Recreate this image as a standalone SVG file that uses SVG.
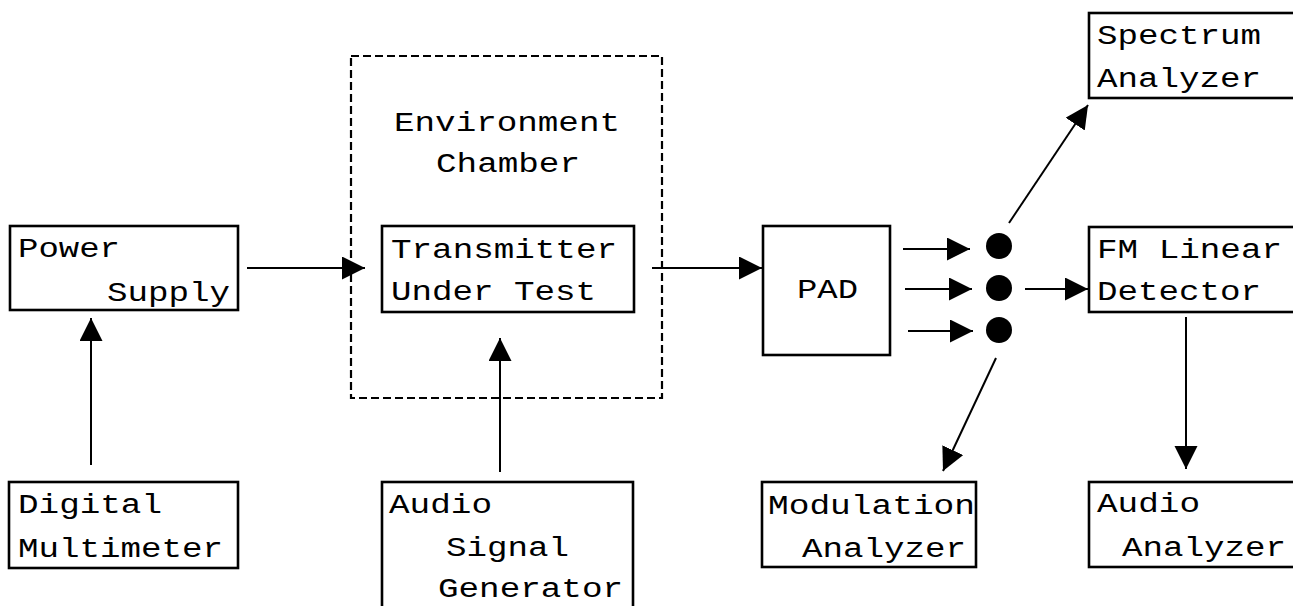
<svg xmlns="http://www.w3.org/2000/svg" width="1293" height="606" viewBox="0 0 1293 606">
<style>
.box{fill:#fff;stroke:#000;stroke-width:2.6}
.dash{fill:none;stroke:#000;stroke-width:2.2;stroke-dasharray:8 4}
.t{font-family:"Liberation Mono",monospace;font-size:27px;fill:#000}
.c{fill:none;stroke:#000;stroke-width:2;marker-end:url(#ah)}
.dot{fill:#000}
</style>
<defs>
<marker id="ah" markerUnits="userSpaceOnUse" markerWidth="24" markerHeight="24" refX="23" refY="11.5" orient="auto" viewBox="0 0 24 24">
<path d="M0,0 L23,11.5 L0,23 z" fill="#000"/>
</marker>
</defs>
<rect width="1293" height="606" fill="#fff"/>
<g id="chamber">
<rect class="dash" x="351" y="56" width="311" height="342"/>
<text class="t" x="394" y="131" textLength="226" lengthAdjust="spacingAndGlyphs">Environment</text>
<text class="t" x="436" y="172" textLength="144" lengthAdjust="spacingAndGlyphs">Chamber</text>
</g>
<g id="power-supply">
<rect class="box" x="10" y="226" width="228" height="84"/>
<text class="t" x="18" y="257" textLength="102" lengthAdjust="spacingAndGlyphs">Power</text>
<text class="t" x="107" y="301" textLength="123" lengthAdjust="spacingAndGlyphs">Supply</text>
</g>
<g id="transmitter">
<rect class="box" x="382" y="226" width="252" height="86"/>
<text class="t" x="391" y="258" textLength="226" lengthAdjust="spacingAndGlyphs">Transmitter</text>
<text class="t" x="391" y="300" textLength="205" lengthAdjust="spacingAndGlyphs">Under Test</text>
</g>
<g id="pad">
<rect class="box" x="763" y="226" width="127" height="129"/>
<text class="t" x="797" y="298" textLength="61" lengthAdjust="spacingAndGlyphs">PAD</text>
</g>
<g id="spectrum-analyzer">
<rect class="box" x="1089" y="13" width="215" height="85"/>
<text class="t" x="1097" y="44" textLength="164" lengthAdjust="spacingAndGlyphs">Spectrum</text>
<text class="t" x="1097" y="87" textLength="164" lengthAdjust="spacingAndGlyphs">Analyzer</text>
</g>
<g id="fm-linear-detector">
<rect class="box" x="1089" y="227" width="215" height="85"/>
<text class="t" x="1097" y="258" textLength="185" lengthAdjust="spacingAndGlyphs">FM Linear</text>
<text class="t" x="1097" y="300" textLength="164" lengthAdjust="spacingAndGlyphs">Detector</text>
</g>
<g id="digital-multimeter">
<rect class="box" x="9" y="482" width="229" height="86"/>
<text class="t" x="18" y="513" textLength="144" lengthAdjust="spacingAndGlyphs">Digital</text>
<text class="t" x="18" y="557" textLength="205" lengthAdjust="spacingAndGlyphs">Multimeter</text>
</g>
<g id="audio-signal-generator">
<rect class="box" x="382" y="482" width="251" height="140"/>
<text class="t" x="389" y="513" textLength="103" lengthAdjust="spacingAndGlyphs">Audio</text>
<text class="t" x="446" y="556" textLength="123" lengthAdjust="spacingAndGlyphs">Signal</text>
<text class="t" x="438" y="597" textLength="185" lengthAdjust="spacingAndGlyphs">Generator</text>
</g>
<g id="modulation-analyzer">
<rect class="box" x="762" y="482" width="214" height="85"/>
<text class="t" x="768" y="514" textLength="207" lengthAdjust="spacingAndGlyphs">Modulation</text>
<text class="t" x="802" y="557" textLength="164" lengthAdjust="spacingAndGlyphs">Analyzer</text>
</g>
<g id="audio-analyzer">
<rect class="box" x="1089" y="482" width="215" height="85"/>
<text class="t" x="1097" y="512" textLength="103" lengthAdjust="spacingAndGlyphs">Audio</text>
<text class="t" x="1122" y="556" textLength="164" lengthAdjust="spacingAndGlyphs">Analyzer</text>
</g>
<g id="junctions">
<circle class="dot" cx="999" cy="246" r="13"/>
<circle class="dot" cx="999" cy="288" r="13"/>
<circle class="dot" cx="999" cy="330" r="13"/>
</g>
<g id="connectors">
<line class="c" x1="247" y1="268" x2="365" y2="268"/>
<line class="c" x1="652" y1="268" x2="762" y2="268"/>
<line class="c" x1="91" y1="465" x2="91" y2="318"/>
<line class="c" x1="500" y1="472" x2="500" y2="338"/>
<line class="c" x1="903" y1="249" x2="970" y2="249"/>
<line class="c" x1="905" y1="289" x2="972" y2="289"/>
<line class="c" x1="908" y1="331" x2="973" y2="331"/>
<line class="c" x1="1025" y1="289" x2="1088" y2="289"/>
<line class="c" x1="1009" y1="223" x2="1088" y2="105"/>
<line class="c" x1="996" y1="358" x2="943" y2="471"/>
<line class="c" x1="1186" y1="317" x2="1186" y2="469"/>
</g>
</svg>
